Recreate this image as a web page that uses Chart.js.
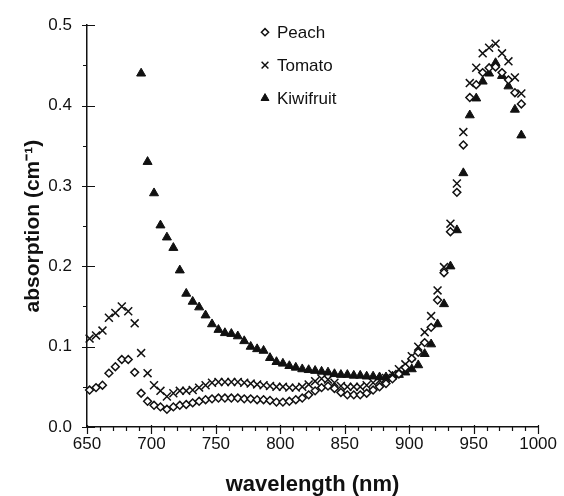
<!DOCTYPE html>
<html>
<head>
<meta charset="utf-8">
<script src="https://cdn.jsdelivr.net/npm/chart.js@4.4.1/dist/chart.umd.min.js"></script>
<style>
  html, body { margin: 0; padding: 0; background: #fff; }
  #wrap { width: 564px; height: 496px; }
</style>
</head>
<body>
<div id="wrap"><canvas id="absChart" width="564" height="496"></canvas></div>
<script>
// wavelengths (nm) shared by all three spectra
const wavelengths = [
  652, 657, 662, 667, 672, 677, 682, 687, 692, 697,
  702, 707, 712, 717, 722, 727, 732, 737, 742, 747,
  752, 757, 762, 767, 772, 777, 782, 787, 792, 797,
  802, 807, 812, 817, 822, 827, 832, 837, 842, 847,
  852, 857, 862, 867, 872, 877, 882, 887, 892, 897,
  902, 907, 912, 917, 922, 927, 932, 937, 942, 947,
  952, 957, 962, 967, 972, 977, 982, 987
];

const peach = [
  0.046, 0.049, 0.052, 0.067, 0.075, 0.084, 0.084, 0.068, 0.042, 0.032,
  0.027, 0.025, 0.022, 0.025, 0.027, 0.028, 0.030, 0.032, 0.034, 0.035,
  0.036, 0.036, 0.036, 0.036, 0.035, 0.035, 0.034, 0.034, 0.033, 0.031,
  0.031, 0.032, 0.034, 0.036, 0.040, 0.045, 0.049, 0.051, 0.048, 0.043,
  0.040, 0.040, 0.040, 0.042, 0.046, 0.050, 0.054, 0.060, 0.066, 0.074,
  0.085, 0.093, 0.105, 0.124, 0.158, 0.192, 0.243, 0.292, 0.351, 0.410,
  0.426, 0.441, 0.447, 0.448, 0.441, 0.432, 0.416, 0.402
];

const tomato = [
  0.110, 0.114, 0.120, 0.136, 0.142, 0.150, 0.144, 0.129, 0.092, 0.067,
  0.052, 0.045, 0.038, 0.042, 0.045, 0.045, 0.046, 0.049, 0.052, 0.055,
  0.056, 0.056, 0.056, 0.056, 0.055, 0.054, 0.053, 0.052, 0.051, 0.050,
  0.050, 0.049, 0.049, 0.050, 0.053, 0.057, 0.060, 0.059, 0.055, 0.051,
  0.050, 0.050, 0.050, 0.052, 0.055, 0.058, 0.061, 0.066, 0.072, 0.078,
  0.088, 0.100, 0.118, 0.138, 0.170, 0.199, 0.253, 0.303, 0.367, 0.428,
  0.447, 0.465, 0.472, 0.477, 0.465, 0.455, 0.435, 0.415
];

// kiwifruit was not measured below ~690 nm
const kiwifruit = [
  null, null, null, null, null, null, null, null, 0.440, 0.330,
  0.291, 0.251, 0.236, 0.223, 0.195, 0.166, 0.156, 0.149, 0.139, 0.128,
  0.121, 0.117, 0.116, 0.113, 0.107, 0.100, 0.097, 0.095, 0.086, 0.081,
  0.079, 0.076, 0.074, 0.072, 0.071, 0.070, 0.069, 0.068, 0.066, 0.065,
  0.065, 0.064, 0.064, 0.063, 0.063, 0.062, 0.062, 0.063, 0.065, 0.068,
  0.072, 0.077, 0.091, 0.103, 0.128, 0.153, 0.200, 0.245, 0.316, 0.388,
  0.409, 0.430, 0.440, 0.453, 0.437, 0.424, 0.395, 0.363
];

const xTickLabels = ['650', '700', '750', '800', '850', '900', '950', '1000'];
const yTickLabels = ['0.0', '0.1', '0.2', '0.3', '0.4', '0.5'];

const INK = '#111';
const FONT = "'Liberation Sans', Arial, Helvetica, sans-serif";

function toPoints(values) {
  return wavelengths
    .map((w, i) => ({ x: w, y: values[i] }))
    .filter(p => p.y !== null);
}

// minor + major ticks, drawn through the chart's own scales
const axisTicks = {
  id: 'axisTicks',
  afterDraw(chart) {
    const { ctx, scales: { x, y } } = chart;
    ctx.save();
    ctx.strokeStyle = INK;
    ctx.lineWidth = 1.2;
    ctx.beginPath();
    for (let v = x.min; v <= x.max; v += 10) {
      const px = Math.round(x.getPixelForValue(v)) + 0.5;
      const major = v % 50 === 0;
      ctx.moveTo(px, y.bottom - (major ? 2 : 0));
      ctx.lineTo(px, y.bottom + (major ? 7 : 4));
    }
    for (let i = 0; i <= 10; i++) {
      const py = Math.round(y.getPixelForValue(i * 0.05)) + 0.5;
      const major = i % 2 === 0;
      ctx.moveTo(x.left - (major ? 5 : 4), py);
      ctx.lineTo(x.left + (major ? 8 : 0), py);
    }
    ctx.stroke();
    ctx.restore();
  }
};

// small legend in the upper middle of the plot
const insideLegend = {
  id: 'insideLegend',
  afterDraw(chart) {
    const { ctx, chartArea } = chart;
    const mx = chartArea.left + 178;
    const tx = chartArea.left + 190;
    ctx.save();
    ctx.font = '17px ' + FONT;
    ctx.textBaseline = 'middle';
    chart.data.datasets.forEach((ds, i) => {
      const my = chartArea.top + 7 + i * 33;
      ctx.strokeStyle = INK;
      ctx.fillStyle = ds.pointBackgroundColor;
      ctx.lineWidth = ds.pointBorderWidth;
      Chart.helpers.drawPoint(ctx, {
        pointStyle: ds.pointStyle,
        radius: ds.legendRadius,
        borderWidth: ds.pointBorderWidth
      }, mx, my);
      ctx.fillStyle = INK;
      ctx.fillText(ds.label, tx, my + 1);
    });
    ctx.restore();
  }
};

new Chart(document.getElementById('absChart'), {
  type: 'scatter',
  data: {
    datasets: [
      {
        label: 'Peach',
        data: toPoints(peach),
        pointStyle: 'rectRot',
        pointRadius: 3.9,
        legendRadius: 3.6,
        pointBorderWidth: 1.5,
        pointBorderColor: INK,
        pointBackgroundColor: '#fff'
      },
      {
        label: 'Tomato',
        data: toPoints(tomato),
        pointStyle: 'crossRot',
        pointRadius: 5.6,
        legendRadius: 4.8,
        pointBorderWidth: 1.5,
        pointBorderColor: INK,
        pointBackgroundColor: INK
      },
      {
        label: 'Kiwifruit',
        data: toPoints(kiwifruit),
        pointStyle: 'triangle',
        pointRadius: 5.2,
        legendRadius: 4.6,
        pointBorderWidth: 1,
        pointBorderColor: INK,
        pointBackgroundColor: INK
      }
    ]
  },
  options: {
    responsive: false,
    animation: false,
    clip: false,
    layout: { padding: { top: 22, right: 25, left: 0, bottom: 0 } },
    plugins: {
      legend: { display: false },
      tooltip: { enabled: false }
    },
    scales: {
      x: {
        type: 'linear',
        min: 650,
        max: 1000,
        afterFit: s => { s.height = 69; },
        afterBuildTicks: s => { s.ticks = xTickLabels.map(v => ({ value: Number(v) })); },
        ticks: {
          color: INK,
          padding: 7,
          font: { family: FONT, size: 17 },
          callback: (v, i) => xTickLabels[i]
        },
        grid: { display: false, drawTicks: false },
        border: { display: true, color: INK, width: 1.5 },
        title: {
          display: true,
          text: 'wavelength (nm)',
          color: INK,
          padding: { top: 0, bottom: 0 },
          font: { family: FONT, size: 22, weight: 'bold', lineHeight: 1 }
        }
      },
      y: {
        min: 0,
        max: 0.5,
        afterFit: s => { s.width = 87; },
        afterBuildTicks: s => { s.ticks = yTickLabels.map(v => ({ value: Number(v) })); },
        ticks: {
          color: INK,
          padding: 15,
          font: { family: FONT, size: 17 },
          callback: (v, i) => yTickLabels[i]
        },
        grid: { display: false, drawTicks: false },
        border: { display: true, color: INK, width: 1.5 },
        title: {
          display: true,
          text: 'absorption (cm\u207B\u00B9)',
          color: INK,
          padding: { top: 21, bottom: 0 },
          font: { family: FONT, size: 21, weight: 'bold', lineHeight: 1.2 }
        }
      }
    }
  },
  plugins: [axisTicks, insideLegend]
});
</script>
</body>
</html>
